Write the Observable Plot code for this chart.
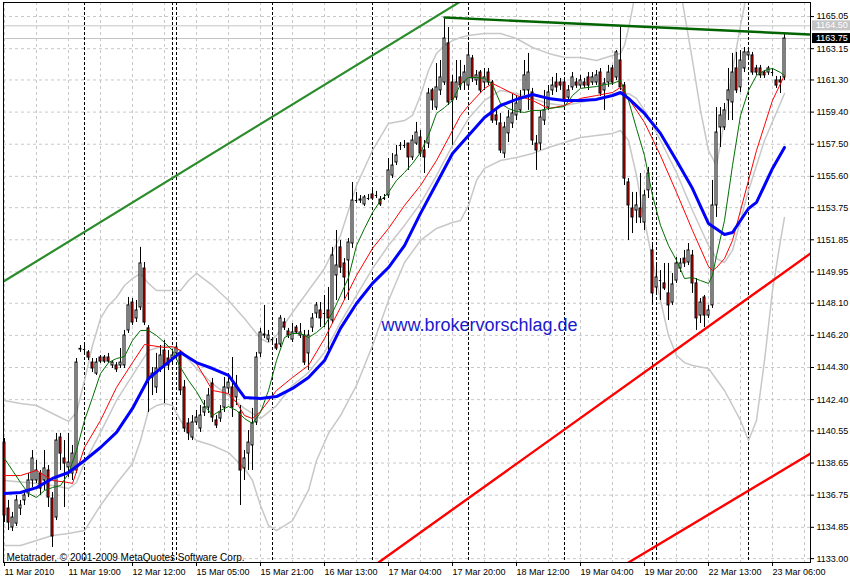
<!DOCTYPE html>
<html><head><meta charset="utf-8">
<script src="https://cdn.jsdelivr.net/npm/d3@7"></script>
<script src="https://cdn.jsdelivr.net/npm/@observablehq/plot@0.6"></script>
<style>
html,body{margin:0;padding:0;background:#fff;}
#chart svg{display:block;}
</style></head><body><div id="chart"></div>
<script>
// ---- candle data (H1 bars, index 0..195) ----
const opens = [1139.86,1135.96,1134.84,1135.07,1135.96,1136.44,1136.85,1137.62,1137.62,1138.03,
1137.62,1138.21,1136.55,1135.43,1140.16,1138.92,1138.39,1138.03,1138.21,1145.36,
1145.36,1145.19,1144.59,1143.94,1144.89,1144.89,1144.89,1144.42,1144.42,1144.42,
1144.42,1146.49,1148.14,1147.20,1147.85,1150.15,1146.61,1143.71,1143.12,1144.24,
1145.30,1144.83,1144.83,1145.13,1145.01,1143.12,1140.99,1140.16,1141.05,1140.69,
1141.64,1141.93,1143.35,1141.17,1141.28,1141.93,1143.06,1143.12,1142.53,1141.64,
1138.33,1139.21,1139.69,1141.05,1145.13,1146.25,1145.95,1145.95,1145.66,1145.66,
1146.96,1146.43,1145.95,1146.66,1146.19,1146.19,1145.13,1146.66,1147.49,1147.67,
1147.49,1147.67,1147.08,1149.74,1151.40,1150.45,1150.63,1151.63,1154.17,1154.17,
1153.94,1154.29,1154.53,1154.47,1154.23,1154.29,1154.47,1155.65,1156.42,1157.43,
1157.43,1157.54,1156.72,1157.54,1157.90,1157.13,1157.54,1160.68,1159.67,1160.68,
1161.15,1163.46,1161.15,1160.26,1161.45,1161.15,1160.97,1162.57,1161.27,1161.74,
1161.15,1161.74,1161.15,1159.20,1158.73,1156.95,1158.14,1158.73,1159.20,1159.50,
1160.68,1160.68,1160.56,1157.54,1157.54,1158.90,1159.67,1160.68,1161.15,1161.15,
1161.15,1160.26,1160.86,1161.15,1160.97,1161.15,1161.45,1161.15,1161.15,1161.74,
1160.68,1161.15,1161.98,1161.45,1162.45,1160.97,1155.24,1153.70,1153.58,1153.70,
1152.87,1154.77,1151.22,1149.03,1149.44,1149.27,1148.68,1148.14,1149.44,1150.15,
1150.74,1150.51,1150.92,1149.27,1147.37,1148.44,1147.37,1147.97,1153.88,1158.49,
1158.49,1160.09,1159.97,1161.98,1160.86,1161.98,1162.75,1162.75,1161.98,1161.98,
1161.74,1161.74,1161.74,1161.27,1161.27,1161.45];
const highs = [1140.10,1136.44,1135.73,1136.73,1136.44,1137.03,1138.03,1139.39,1138.80,1138.21,
1139.39,1138.50,1136.91,1140.40,1140.40,1139.98,1140.40,1139.69,1144.83,1145.60,
1145.60,1145.30,1144.83,1144.83,1145.01,1145.01,1145.13,1144.71,1144.59,1145.42,
1146.49,1148.44,1148.38,1148.26,1151.40,1150.51,1146.78,1144.30,1145.13,1145.60,
1145.90,1145.30,1145.30,1145.60,1145.30,1143.53,1141.28,1141.46,1141.76,1142.05,
1142.35,1143.06,1143.65,1141.46,1142.05,1143.71,1143.94,1144.89,1143.83,1142.05,
1139.39,1140.57,1141.88,1145.19,1146.61,1147.97,1146.49,1146.07,1146.01,1147.37,
1147.20,1146.61,1146.90,1146.78,1146.90,1146.49,1146.49,1147.49,1148.14,1148.14,
1148.56,1149.03,1151.40,1152.40,1151.81,1150.74,1151.93,1155.24,1154.65,1154.47,
1154.47,1154.53,1154.77,1154.71,1154.41,1154.53,1156.66,1156.95,1157.43,1157.60,
1157.72,1157.54,1158.02,1158.79,1158.31,1157.72,1160.80,1160.80,1162.27,1162.45,
1164.99,1164.40,1161.57,1162.45,1162.45,1162.16,1163.46,1162.75,1161.86,1161.86,
1161.98,1161.98,1161.27,1159.50,1159.32,1158.79,1159.50,1160.50,1160.38,1160.68,
1162.45,1162.87,1160.80,1158.02,1159.50,1160.68,1160.97,1161.45,1161.68,1161.39,
1161.39,1160.97,1161.74,1161.39,1161.57,1161.39,1161.74,1161.74,1161.86,1161.98,
1161.39,1162.16,1162.16,1163.04,1164.52,1161.15,1155.47,1154.65,1154.65,1155.77,
1154.77,1156.13,1151.51,1150.45,1150.03,1150.45,1150.45,1149.86,1150.80,1150.74,
1151.22,1151.63,1151.22,1149.56,1148.38,1148.56,1147.97,1155.36,1159.67,1159.67,
1159.91,1161.98,1162.87,1162.93,1163.04,1163.22,1163.16,1162.93,1162.16,1162.16,
1161.86,1162.10,1161.98,1161.51,1161.51,1164.05];
const lows = [1135.13,1134.66,1134.60,1134.90,1135.55,1136.14,1136.61,1137.20,1137.44,1136.73,
1137.03,1136.02,1133.66,1135.25,1138.21,1136.02,1137.80,1137.62,1138.03,1145.19,
1145.13,1144.71,1144.00,1143.83,1144.54,1144.54,1144.54,1144.24,1144.00,1144.24,
1144.24,1146.31,1146.78,1146.96,1147.67,1146.78,1141.64,1142.64,1142.76,1144.00,
1142.17,1144.12,1144.59,1144.89,1142.64,1140.46,1139.98,1139.98,1140.87,1140.46,
1141.40,1141.58,1141.05,1140.69,1141.05,1141.64,1142.76,1141.34,1142.05,1136.14,
1137.62,1138.21,1138.21,1140.87,1144.89,1146.01,1145.78,1145.78,1145.30,1145.48,
1146.49,1146.01,1145.78,1146.25,1146.01,1144.42,1144.12,1146.37,1147.20,1146.66,
1146.66,1145.13,1146.90,1148.26,1149.86,1148.26,1148.26,1151.34,1154.00,1154.00,
1153.82,1154.17,1154.17,1154.29,1153.82,1154.17,1154.29,1155.47,1156.24,1157.13,
1157.25,1155.95,1156.54,1157.43,1156.72,1155.77,1157.25,1159.50,1159.50,1160.38,
1160.97,1159.79,1157.43,1160.09,1160.68,1160.68,1160.80,1161.15,1160.97,1160.50,
1160.68,1160.97,1158.73,1158.61,1156.95,1156.66,1157.60,1158.43,1158.90,1159.32,
1160.38,1159.50,1157.43,1155.95,1157.13,1158.61,1159.50,1160.38,1160.56,1160.68,
1159.91,1160.09,1160.68,1160.80,1160.80,1160.80,1160.68,1160.97,1160.97,1160.32,
1159.50,1160.86,1160.97,1161.27,1160.68,1155.06,1151.81,1152.22,1152.81,1152.81,
1152.40,1154.29,1148.08,1148.68,1148.26,1148.85,1147.08,1147.97,1149.27,1149.92,
1150.21,1150.33,1148.68,1146.49,1146.90,1146.66,1147.20,1147.79,1153.17,1157.31,
1158.31,1158.90,1158.90,1160.50,1160.56,1161.74,1162.57,1161.57,1161.57,1161.39,
1161.39,1161.57,1161.51,1160.80,1160.50,1161.27];
const closes = [1135.55,1135.13,1135.43,1136.44,1136.14,1136.73,1137.62,1138.92,1138.21,1137.14,
1138.33,1136.61,1134.31,1139.98,1139.21,1138.62,1138.68,1139.21,1144.59,1145.40,
1145.36,1144.89,1144.24,1144.59,1144.65,1144.65,1144.65,1144.59,1144.18,1144.59,
1146.19,1147.97,1146.96,1147.67,1150.45,1146.96,1143.53,1143.94,1144.24,1145.01,
1144.42,1144.42,1145.01,1145.48,1142.94,1140.69,1140.40,1141.05,1141.34,1141.46,
1141.93,1142.64,1141.34,1140.87,1141.64,1143.12,1143.41,1141.93,1143.24,1138.21,
1138.92,1139.86,1140.99,1144.89,1146.37,1146.19,1146.19,1145.95,1145.42,1147.20,
1146.66,1146.19,1146.37,1146.37,1146.37,1144.59,1146.19,1147.20,1147.97,1147.20,
1147.49,1147.20,1150.92,1150.33,1150.21,1149.62,1151.69,1154.17,1154.17,1154.23,
1154.35,1154.29,1154.29,1154.47,1153.94,1154.29,1155.95,1156.24,1156.83,1157.43,
1157.43,1156.72,1157.72,1158.19,1156.95,1156.72,1160.50,1160.09,1160.86,1161.45,
1163.75,1159.97,1160.09,1161.15,1160.97,1161.74,1162.75,1161.39,1161.57,1160.68,
1161.45,1161.15,1158.90,1158.90,1157.13,1158.49,1159.08,1159.32,1159.91,1160.26,
1161.57,1161.74,1157.72,1157.13,1159.08,1159.50,1160.56,1160.97,1160.86,1160.97,
1160.09,1160.68,1161.45,1160.97,1161.27,1160.97,1160.97,1161.45,1161.57,1160.50,
1161.09,1161.74,1161.15,1162.93,1160.86,1155.47,1153.88,1153.17,1153.88,1153.17,
1154.47,1155.77,1148.68,1149.62,1149.44,1148.97,1147.97,1149.21,1150.45,1150.45,
1150.45,1151.22,1149.27,1147.20,1148.14,1147.37,1147.67,1153.88,1158.19,1159.20,
1159.50,1160.68,1161.74,1160.68,1162.45,1162.93,1162.93,1161.74,1161.74,1161.57,
1161.57,1161.98,1161.74,1160.97,1161.15,1163.75];

// ---- indicator lines ----
const blueBars = [0,4,8,12,16,20,24,28,32,36,40,44,48,52,56,60,64,68,72,76,80,84,88,92,96,100,104,108,112,116,120,124,128,132,136,140,144,148,152,154,156,160,164,168,172,176,180,182,184,186,188,190,192,195];
const blueVals = [1136.85,1136.91,1137.20,1137.74,1138.09,1138.80,1139.57,1140.46,1141.88,1143.65,1144.42,1145.19,1144.59,1144.24,1143.83,1142.53,1142.47,1142.58,1143.06,1143.71,1144.71,1146.61,1148.08,1149.27,1150.21,1151.51,1153.41,1155.18,1156.95,1158.02,1159.08,1159.79,1160.15,1160.44,1160.21,1160.09,1160.09,1160.15,1160.38,1160.56,1160.21,1159.32,1158.14,1156.54,1154.88,1152.81,1152.16,1152.28,1152.99,1153.70,1154.06,1155.06,1156.07,1157.31];
const redBars = [0,4,8,12,16,17,20,24,28,32,35,40,42,44,48,52,56,58,60,62,64,68,72,76,80,84,88,92,96,100,104,108,112,114,116,120,122,124,128,132,136,140,144,148,152,154,156,160,164,168,172,176,177,178,180,182,184,186,188,190,192,195];
const redVals = [1137.91,1137.91,1138.21,1137.62,1137.50,1137.44,1139.57,1141.17,1143.12,1144.59,1145.66,1145.48,1145.54,1145.30,1144.54,1142.94,1142.76,1142.23,1141.46,1141.28,1141.70,1142.94,1143.71,1144.42,1146.01,1147.85,1149.74,1151.34,1152.52,1153.88,1155.06,1156.54,1158.31,1159.20,1159.79,1160.80,1161.09,1160.86,1160.38,1160.09,1159.61,1159.79,1160.21,1160.38,1160.56,1160.86,1160.21,1158.79,1156.83,1154.65,1152.40,1150.27,1150.03,1150.21,1150.74,1151.81,1153.58,1155.36,1157.13,1158.61,1160.09,1161.57];
const greenBars = [0,2,4,6,8,10,12,14,16,18,20,22,24,26,28,30,32,34,36,38,40,42,44,46,48,50,52,54,56,58,60,62,64,66,68,70,72,74,76,78,80,82,84,86,88,90,92,94,96,98,100,102,104,106,108,110,112,114,116,118,120,122,124,126,128,130,132,134,136,138,140,142,144,146,148,150,152,154,156,158,160,162,164,166,168,170,172,174,176,177,178,180,182,184,186,188,190,192,194,195];
const greenVals = [1138.92,1138.21,1137.50,1136.85,1136.61,1137.03,1137.20,1137.32,1138.03,1139.39,1141.17,1142.53,1143.94,1144.59,1144.83,1144.95,1145.90,1146.49,1146.49,1146.19,1145.78,1145.30,1144.30,1143.53,1142.88,1142.05,1141.46,1141.76,1141.99,1141.76,1141.28,1140.99,1141.64,1142.94,1144.71,1146.07,1146.31,1146.31,1146.07,1146.37,1146.78,1147.55,1148.56,1149.62,1151.51,1152.52,1153.46,1154.17,1154.65,1155.36,1155.83,1156.36,1157.01,1158.02,1159.32,1159.67,1160.09,1161.03,1161.45,1161.45,1161.39,1161.03,1159.91,1159.61,1159.44,1159.38,1159.50,1159.50,1159.61,1159.67,1159.73,1160.38,1160.80,1160.86,1160.91,1161.03,1161.09,1161.27,1160.09,1158.43,1156.83,1154.47,1152.70,1151.51,1150.63,1149.56,1149.62,1149.44,1149.27,1149.74,1150.92,1152.99,1156.24,1159.20,1160.68,1161.57,1161.86,1161.98,1161.74,1161.57];
const bbUpBars = [0,4,8,12,16,18,20,22,24,26,28,30,32,34,36,38,40,44,46,48,52,56,60,64,66,68,72,76,80,84,88,92,96,100,102,104,106,108,110,112,114,116,120,124,128,132,136,140,144,148,152,154,155,156,157,160,166,169,172,174,176,178,180,182,184,185,186,195];
const bbUpVals = [1142.35,1142.17,1142.05,1141.58,1141.11,1141.64,1143.53,1145.60,1147.20,1147.97,1148.44,1149.15,1149.56,1149.86,1149.27,1148.85,1148.85,1148.85,1149.44,1149.86,1149.15,1148.26,1147.20,1146.01,1145.78,1146.19,1147.55,1148.85,1150.15,1152.10,1155.06,1157.13,1158.73,1158.90,1159.20,1160.38,1161.86,1162.87,1163.34,1163.63,1163.81,1163.93,1164.05,1164.05,1163.75,1163.22,1162.87,1162.63,1162.63,1162.45,1162.75,1162.87,1163.34,1164.34,1165.53,1169.50,1169.50,1166.59,1162.45,1159.50,1157.13,1156.24,1158.90,1161.86,1164.52,1165.70,1168.37,1171.90];
const bbMidBars = [0,8,12,16,18,20,24,28,32,36,40,44,48,52,56,60,64,68,72,76,80,84,88,92,96,100,104,108,112,116,120,124,128,132,136,140,144,148,152,156,158,160,164,168,172,176,178,180,182,186,190,195];
const bbMidVals = [1137.62,1137.44,1137.32,1137.14,1137.50,1138.68,1140.46,1142.35,1143.83,1145.30,1145.60,1145.30,1144.24,1143.35,1142.64,1141.88,1141.28,1142.05,1143.24,1144.00,1145.19,1146.96,1148.56,1150.15,1151.51,1152.70,1154.00,1155.65,1157.43,1159.02,1160.09,1160.68,1160.50,1160.21,1159.91,1159.79,1159.97,1160.21,1160.38,1160.50,1160.21,1159.50,1157.72,1155.83,1153.58,1151.51,1150.74,1150.51,1151.22,1154.77,1157.72,1160.50];
const bbLoBars = [0,4,8,12,16,20,24,28,32,34,36,38,40,42,44,46,48,52,56,60,62,64,66,68,72,76,78,81,84,88,92,96,100,104,108,112,114,116,118,120,124,128,132,136,140,144,148,152,154,156,158,160,162,164,166,168,170,172,176,180,184,186,188,190,192,194,195];
const bbLoVals = [1133.77,1133.77,1134.07,1134.37,1134.48,1134.66,1136.14,1137.44,1138.62,1139.98,1141.76,1142.05,1142.17,1142.05,1141.17,1140.40,1139.98,1139.69,1139.27,1138.33,1137.62,1136.14,1134.96,1134.66,1135.25,1137.03,1138.80,1140.40,1141.46,1143.24,1145.60,1148.26,1150.51,1151.81,1152.52,1152.87,1152.99,1153.88,1155.36,1156.07,1156.54,1156.72,1156.95,1157.31,1157.60,1157.90,1158.02,1158.14,1158.31,1157.72,1155.65,1152.99,1150.63,1148.26,1146.19,1145.01,1144.59,1144.42,1144.24,1142.94,1141.17,1139.98,1141.17,1144.71,1148.85,1151.81,1153.17];

// ---- drawn trend lines: [bar, price] end points ----
const trendGreenUp = [[-0.25, 1149.38], [116, 1166.23]];
const trendResistance = [[110, 1164.99], [201.5, 1163.99]];
const trendRedUpper = [[93.5, 1132.77], [201.5, 1151.04]];
const trendRedLower = [[156, 1132.77], [201.5, 1139.21]];

// ---- axes / annotations ----
const priceTicks = [1165.05,1163.15,1161.30,1159.40,1157.50,1155.60,1153.75,1151.85,1149.95,1148.10,1146.20,1144.30,1142.40,1140.55,1138.65,1136.75,1134.85,1133.00];
const dateBars = [0,16,32,48,64,80,96,112,128,144,160,176,192];
const dateLabels = ["11 Mar 2010","11 Mar 19:00","12 Mar 12:00","15 Mar 05:00","15 Mar 21:00","16 Mar 13:00","17 Mar 04:00","17 Mar 20:00","18 Mar 12:00","19 Mar 04:00","19 Mar 20:00","22 Mar 13:00","23 Mar 06:00"];
const gridBars = [0,8,16,24,32,40,48,56,64,72,80,88,96,104,112,120,128,136,144,152,160,168,176,184,192,200];
const separatorBars = [20,42,43,67,92,116,140,162,163,186];
const askPrice = 1164.50;
const bidPrice = 1163.75;
const watermark = {label: "www.brokervorschlag.de", bar: 94.25, price: 1146.78};
const copyright = "Metatrader, \u00A9 2001-2009 MetaQuotes Software Corp.";

const candles = opens.map((o, i) => ({i, open: o, high: highs[i], low: lows[i], close: closes[i]}));
const series = (bars, vals) => bars.map((b, k) => ({i: b, v: vals[k]}));
const seg = pts => pts.map(([i, v]) => ({i, v}));
const gray = "#c8c8c8";
const FONT = "'Liberation Sans', Arial, sans-serif";

const chart = Plot.plot({
  width: 850, height: 580,
  marginLeft: 3, marginRight: 40, marginTop: 2, marginBottom: 18,
  x: {domain: [-0.25, 201.5]},
  y: {domain: [1132.77, 1165.88]},
  style: {fontFamily: FONT, fontSize: "9px", background: "#fff", color: "#000"},
  marks: [
    Plot.gridY(priceTicks, {stroke: gray, strokeOpacity: 1, strokeDasharray: "3,3"}),
    Plot.gridX(gridBars, {stroke: gray, strokeOpacity: 1, strokeDasharray: "3,3"}),
    Plot.ruleY([askPrice, bidPrice], {stroke: "#c4c4c4"}),
    Plot.ruleX(separatorBars, {stroke: "#000", strokeDasharray: "3,2"}),
    Plot.line(series(bbUpBars, bbUpVals), {x: "i", y: "v", stroke: gray, clip: true}),
    Plot.line(series(bbMidBars, bbMidVals), {x: "i", y: "v", stroke: gray, clip: true}),
    Plot.line(series(bbLoBars, bbLoVals), {x: "i", y: "v", stroke: gray, clip: true}),
    Plot.ruleX(candles, {x: "i", y1: "low", y2: "high", stroke: "#000"}),
    Plot.rect(candles, {x1: d => d.i - 0.25, x2: d => d.i + 0.25, y1: "open", y2: "close",
      fill: d => d.close >= d.open ? "#fff" : "#ff0000", stroke: "#000"}),
    Plot.ruleY(candles.filter(d => Math.abs(d.close - d.open) < 0.03),
      {y: "open", x1: d => d.i - 0.3, x2: d => d.i + 0.3, stroke: "#000"}),
    Plot.line(series(redBars, redVals), {x: "i", y: "v", stroke: "#ff0000", strokeWidth: 1}),
    Plot.line(series(greenBars, greenVals), {x: "i", y: "v", stroke: "#007000", strokeWidth: 1}),
    Plot.line(series(blueBars, blueVals), {x: "i", y: "v", stroke: "#0000ff", strokeWidth: 3}),
    Plot.line(seg(trendGreenUp), {x: "i", y: "v", stroke: "#2b8c2b", strokeWidth: 2.2, clip: true}),
    Plot.line(seg(trendResistance), {x: "i", y: "v", stroke: "#006400", strokeWidth: 2.4, clip: true}),
    Plot.line(seg(trendRedUpper), {x: "i", y: "v", stroke: "#ff0000", strokeWidth: 2.4, clip: true}),
    Plot.line(seg(trendRedLower), {x: "i", y: "v", stroke: "#ff0000", strokeWidth: 2.4, clip: true}),
    Plot.text([watermark], {x: "bar", y: "price", text: "label", textAnchor: "start",
      fill: "#1a1acc", fontSize: 18, fontFamily: FONT}),
    Plot.text([copyright], {frameAnchor: "bottom-left", dx: 3, dy: -2, textAnchor: "start",
      lineAnchor: "bottom", fontSize: 10, fill: "#000"}),
    Plot.frame({stroke: "#000"}),
    Plot.axisY(priceTicks, {anchor: "right", tickFormat: d => d.toFixed(2), tickSize: 3, tickPadding: 3, label: null}),
    Plot.axisX(dateBars, {anchor: "bottom", tickFormat: d => dateLabels[dateBars.indexOf(d)],
      tickSize: 4, tickPadding: 2, textAnchor: "start", label: null})
  ]
});
document.getElementById("chart").appendChild(chart);

// highlighted ask / bid labels on the price axis
const ys = chart.scale("y"), xs = chart.scale("x");
const xr = xs.range[1];
const svg = d3.select(chart);
[[askPrice, "#c4c4c4"], [bidPrice, "#000"]].forEach(([p, bg]) => {
  const yy = ys.apply(p);
  svg.append("rect").attr("x", xr + 2).attr("y", yy - 5).attr("width", 850 - xr - 2).attr("height", 10).attr("fill", bg);
  svg.append("text").attr("x", xr + 6).attr("y", yy).attr("dy", "0.35em").attr("fill", "#fff")
    .attr("text-anchor", "start").attr("font-size", 9).attr("font-family", FONT).text(p.toFixed(2));
});
</script>
</body></html>
